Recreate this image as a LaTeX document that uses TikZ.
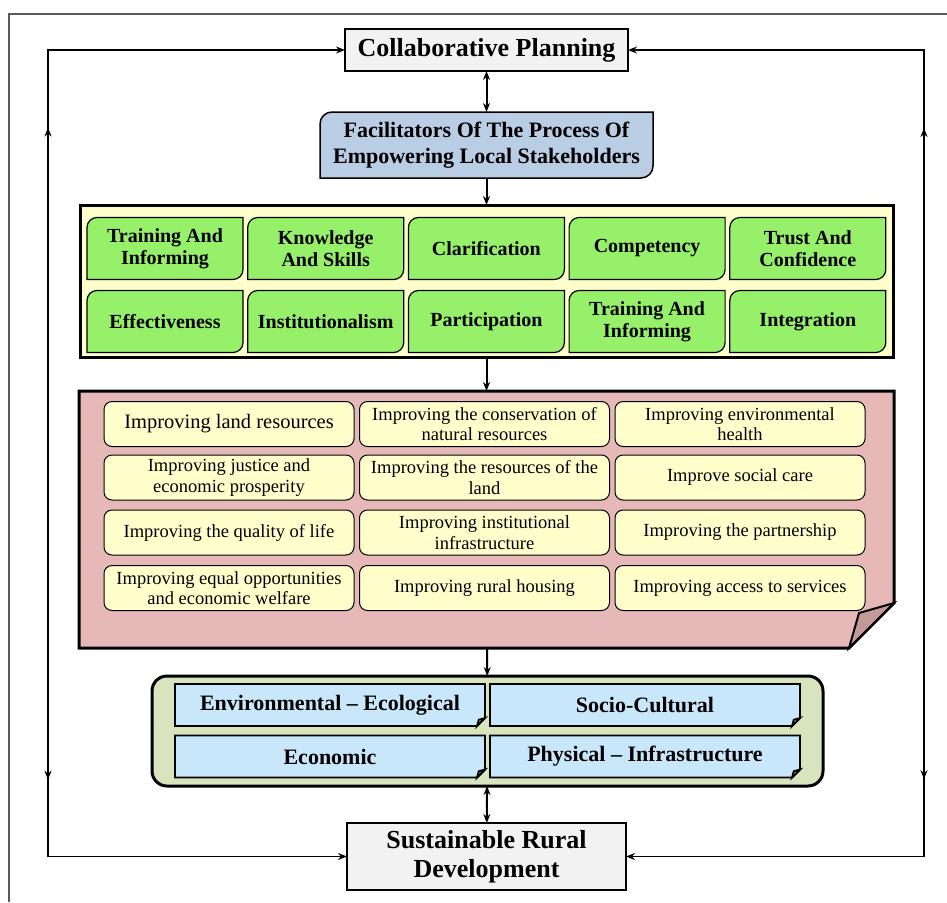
\documentclass[tikz,border=0pt]{standalone}
\usepackage{fontspec}
\setmainfont{Liberation Serif}
\usetikzlibrary{arrows.meta, decorations.markings}

\definecolor{boxgray}{HTML}{F2F2F2}
\definecolor{facblue}{HTML}{B9CDE5}
\definecolor{panelyellow}{HTML}{FFFFCC}
\definecolor{traitgreen}{HTML}{96F06A}
\definecolor{panelpink}{HTML}{E6B8B7}
\definecolor{foldpink}{HTML}{C39A9A}
\definecolor{gainyellow}{HTML}{FFFFCC}
\definecolor{panelolive}{HTML}{D7E4BD}
\definecolor{dimblue}{HTML}{C9E7FB}
\definecolor{dimfold}{HTML}{8FB4CC}

\pgfdeclarelayer{back}
\pgfdeclarelayer{mid}
\pgfsetlayers{back,mid,main}

% box with rounded top-left and bottom-right corners
\newcommand{\diagcorners}[3]{%
  \draw[#3] ([yshift=-#2]#1.north west) arc[start angle=180, end angle=90, radius=#2]
    -- (#1.north east) -- ([yshift=#2]#1.south east)
    arc[start angle=0, end angle=-90, radius=#2] -- (#1.south west) -- cycle;}
% box with a folded bottom-right corner
\newcommand{\dogear}[4]{%
  \draw[#3] (#1.south west) -- (#1.north west) -- (#1.north east)
    -- ([yshift=#2]#1.south east) -- ([xshift=-#2]#1.south east) -- cycle;
  \draw[#3, fill=#4] ([yshift=#2]#1.south east) -- ([xshift=-0.78*#2, yshift=0.78*#2]#1.south east)
    -- ([xshift=-#2]#1.south east) -- cycle;}

\begin{document}
\begin{tikzpicture}[x=1pt, y=1pt, >={Stealth[length=9pt, width=7pt]},
    link/.style={line width=2pt, ->},
    loopline/.style={line width=1.8pt, ->, postaction={decorate},
      decoration={markings, mark=at position 0.465 with {\arrow{>}}}},
    plainbox/.style={draw, line width=1.5pt, fill=boxgray, inner sep=0pt, outer sep=0pt, align=center},
    shaped/.style={inner sep=0pt, outer sep=0pt, align=center},
    panel/.style={draw, line width=3pt, inner sep=0pt, outer sep=0pt},
    trait/.style={shaped, minimum width=156pt, minimum height=62pt, font=\fontsize{20}{22}\selectfont\bfseries},
    gain/.style={draw, line width=1pt, fill=gainyellow, rounded corners=8pt, inner sep=0pt, outer sep=0pt,
      align=center, minimum width=250pt, minimum height=45pt, font=\fontsize{18.5}{20.5}\selectfont},
    dim/.style={shaped, minimum width=310pt, minimum height=42pt, font=\fontsize{22}{26}\selectfont\bfseries}]
  \useasboundingbox (0,0) rectangle (947,-902);

  % frame
  \draw[gray!70!black, line width=1.3pt] (9,-902) -- (9,-14) -- (947,-14);

  % top and bottom
  \node[plainbox, minimum width=283pt, minimum height=42pt, font=\fontsize{26}{29}\selectfont\bfseries]
    (collab) at (486.5,-50) {Collaborative Planning};
  \node[plainbox, minimum width=279pt, minimum height=67pt, font=\fontsize{26}{29}\selectfont\bfseries]
    (srd) at (486.5,-856.5) {Sustainable Rural\\Development};
  \node[shaped, minimum width=333pt, minimum height=66pt, font=\fontsize{22}{26}\selectfont\bfseries]
    (fac) at (486.5,-145) {Facilitators Of The Process Of\\Empowering Local Stakeholders};

  % facilitators
  \foreach \t [count=\i from 0] in {{Training And\\Informing}, {Knowledge\\And Skills}, Clarification, Competency, {Trust And\\Confidence}}
    \node[trait] (ta\i) at (165+160.7*\i,-248.5) {\t};
  \foreach \t [count=\i from 0] in {Effectiveness, Institutionalism, Participation, {Training And\\Informing}, Integration}
    \node[trait] (tb\i) at (165+160.7*\i,-321.5) {\t};

  % improvements
  \foreach \t [count=\c from 0] in {{\fontsize{20.5}{22}\selectfont Improving land resources}, {Improving the conservation of\\natural resources}, {Improving environmental\\health}}
    \node[gain] (g1\c) at (229+255.5*\c,-424) {\t};
  \foreach \t [count=\c from 0] in {{Improving justice and\\economic prosperity}, {Improving the resources of the\\land}, Improve social care}
    \node[gain] (g2\c) at (229+255.5*\c,-477.5) {\t};
  \foreach \t [count=\c from 0] in {Improving the quality of life, {Improving institutional\\infrastructure}, Improving the partnership}
    \node[gain] (g3\c) at (229+255.5*\c,-532.5) {\t};
  \foreach \t [count=\c from 0] in {{Improving equal opportunities\\and economic welfare}, Improving rural housing, Improving access to services}
    \node[gain] (g4\c) at (229+255.5*\c,-588) {\t};

  % dimensions
  \node[dim] (d1) at (330,-705) {Environmental -- Ecological};
  \node[dim] (d2) at (645,-705) {Socio-Cultural};
  \node[dim] (d3) at (330,-756.5) {Economic};
  \node[dim] (d4) at (645,-756.5) {Physical -- Infrastructure};

  \begin{pgfonlayer}{back}
    \node[panel, fill=panelyellow, minimum width=813pt, minimum height=152pt] (traits) at (486.5,-281) {};
    \node[panel, draw=none, minimum width=815pt, minimum height=257pt] (gains) at (486.5,-519.5) {};
    \draw[panel, fill=panelpink] (gains.north west) -- (gains.north east) -- ([yshift=45pt]gains.south east)
      -- ([xshift=-45pt]gains.south east) -- (gains.south west) -- cycle;
    \draw[line width=2pt, fill=foldpink] ([yshift=45pt]gains.south east) -- ([xshift=-35pt, yshift=35pt]gains.south east)
      -- ([xshift=-45pt]gains.south east) -- cycle;
    \node[panel, fill=panelolive, rounded corners=15pt, minimum width=671pt, minimum height=110pt] (dims) at (487.5,-731) {};
  \end{pgfonlayer}

  \begin{pgfonlayer}{mid}
    \diagcorners{fac}{12pt}{line width=1.5pt, fill=facblue}
    \foreach \n in {ta0,ta1,ta2,ta3,ta4,tb0,tb1,tb2,tb3,tb4}
      {\diagcorners{\n}{10pt}{line width=1.2pt, fill=traitgreen}}
    \foreach \n in {d1,d2,d3,d4}
      {\dogear{\n}{8pt}{line width=1.8pt, fill=dimblue}{dimfold}}
  \end{pgfonlayer}

  % arrows
  \draw[link, <->] (collab) -- (fac);
  \draw[link] (fac) -- (traits);
  \draw[link] (traits) -- (gains);
  \draw[link] (gains) -- (dims);
  \draw[link, <->] (dims) -- (srd);

  % feedback loops
  \coordinate (lmid) at (48,-453);
  \coordinate (rmid) at (924,-453);
  \draw[loopline] (lmid) |- (collab.west);
  \draw[loopline] (lmid) |- (srd.west);
  \draw[loopline] (rmid) |- (collab.east);
  \draw[loopline] (rmid) |- (srd.east);
\end{tikzpicture}
\end{document}
